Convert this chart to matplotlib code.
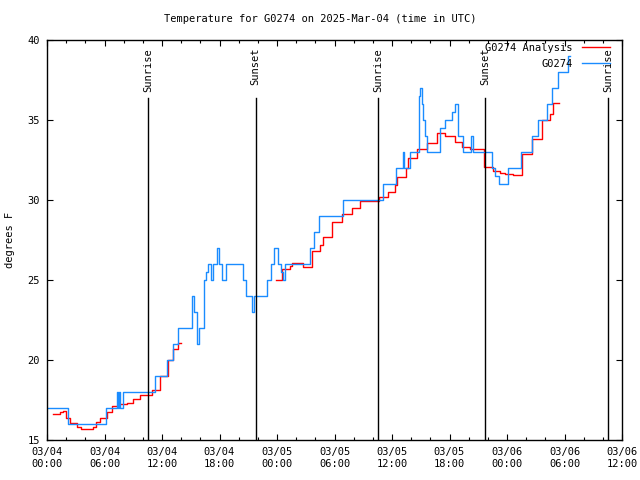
import numpy as np
import matplotlib
matplotlib.use("Agg")
import matplotlib.pyplot as plt
from matplotlib.ticker import MultipleLocator

# hours since 03/04 00:00 UTC
obs_hours = [0.14, 1.7, 2.2, 6.0, 6.15, 7.17, 7.27, 7.38, 7.48, 7.57, 7.96,
             10.93, 11.27, 12.14, 12.49, 13.18, 13.64, 14.92, 15.16, 15.33, 15.68,
             15.89, 16.2, 16.41, 16.6, 16.83, 17.11, 17.3, 17.71, 17.95, 18.23,
             18.68, 20.14, 20.45, 20.77, 21.18, 21.42, 21.63, 22.64, 22.93, 23.37,
             23.72, 24.14, 24.42, 24.66, 24.83, 27.1, 27.44, 27.86, 28.38, 30.68,
             30.92, 34.75, 35.09, 36.14, 36.42, 37.18, 37.28, 37.88, 38.58, 38.82,
             38.92, 39.13, 39.27, 39.44, 39.68, 40.83, 41.0, 41.53, 42.23, 42.58,
             42.92, 43.44, 44.21, 44.49, 46.12, 46.41, 46.75, 47.2, 48.14, 49.29,
             49.43, 50.4, 50.64, 51.2, 52.21, 52.67, 53.36, 54.4, 54.6]
obs_temp = [17, 17, 16, 16, 17, 17, 18, 17, 18, 17, 18,
            18, 19, 19, 20, 21, 22, 22, 24, 23, 21,
            22, 22, 25, 25.5, 26, 25, 26, 27, 26, 25,
            26, 26, 25, 24, 24, 23, 24, 24, 25, 26,
            27, 26, 25.5, 25, 26, 26, 27, 28, 29, 29,
            30, 30, 31, 31, 32, 33, 32, 33, 33, 36.5,
            37, 36, 35, 34, 33, 33, 34.5, 35, 35.5, 36,
            34, 33, 34, 33, 33, 32, 31.5, 31, 32, 32,
            33, 33, 34, 35, 36, 37, 38, 39, 39]

ana_hours = [0.66, 1.36, 1.7, 1.98, 2.4, 3.1, 3.52, 4.41, 4.77, 5.1, 5.53,
             6.23, 6.75, 7.44, 8.32, 9.0, 9.7, 10.57, 10.96, 11.8, 12.63, 13.15,
             13.7, 14.0,
             23.9, 24.49, 25.36, 25.6, 26.58, 26.75, 27.44, 27.68, 28.49, 28.8,
             29.71, 30.5, 30.75, 31.54, 31.83, 32.32, 32.66, 34.57, 34.68, 35.34,
             35.58, 36.31, 36.49, 37.46, 37.7, 38.58, 39.62, 40.67, 41.53, 42.58,
             43.27, 44.14, 45.42, 45.63, 46.57, 47.27, 47.79, 48.66, 49.43, 49.54,
             50.58, 51.62, 52.49, 52.77, 53.46]
ana_temp = [16.6, 16.77, 16.8, 16.4, 16.04, 15.83, 15.7, 15.7, 15.83, 16.1, 16.4,
            16.77, 17.1, 17.25, 17.33, 17.54, 17.8, 17.8, 18.1, 19.0, 20.0, 20.7,
            21.05, np.nan,
            25.0, 25.67, 25.9, 26.04, 26.04, 25.8, 25.8, 26.8, 27.2, 27.7,
            28.6, 28.6, 29.1, 29.1, 29.5, 29.5, 29.96, 29.96, 30.17, 30.17,
            30.5, 30.94, 31.46, 32.02, 32.6, 33.17, 33.58, 34.17, 34.0, 33.6,
            33.3, 33.2, 33.2, 32.08, 31.83, 31.7, 31.6, 31.56, 31.56, 32.9,
            33.8, 35.0, 35.4, 36.04, 36.04]

sun_hours = [10.57, 21.78, 34.57, 45.72, 58.57]
sun_labels = ["Sunrise", "Sunset", "Sunrise", "Sunset", "Sunrise"]

tick_hours = [0, 6, 12, 18, 24, 30, 36, 42, 48, 54, 60]
tick_labels = ["03/04\n00:00", "03/04\n06:00", "03/04\n12:00", "03/04\n18:00",
               "03/05\n00:00", "03/05\n06:00", "03/05\n12:00", "03/05\n18:00",
               "03/06\n00:00", "03/06\n06:00", "03/06\n12:00"]

plt.rcParams['font.family'] = ['DejaVu Sans Mono']
plt.rcParams['font.size'] = 7

fig = plt.figure(figsize=(6.4, 4.8), dpi=100)
ax = fig.add_axes([47/640, 40/480, 575/640, 400/480])

ax.plot(ana_hours, ana_temp, drawstyle='steps-post', color='#ff0000', lw=1.0,
        label='G0274 Analysis')
ax.plot(obs_hours, obs_temp, drawstyle='steps-post', color='#1a8cff', lw=1.0,
        label='G0274')

for h, lab in zip(sun_hours, sun_labels):
    ax.axvline(h, ymin=0, ymax=0.855, color='black', lw=1.0)
    ax.text(h, 0.98, lab, transform=ax.get_xaxis_transform(), rotation=90,
            ha='center', va='top', fontsize=7.5)

ax.set_xlim(0, 60)
ax.set_ylim(15, 40)
ax.set_xticks(tick_hours)
ax.set_xticklabels(tick_labels)
ax.xaxis.set_minor_locator(MultipleLocator(2))
ax.set_yticks([15, 20, 25, 30, 35, 40])
ax.tick_params(which='both', direction='in', top=True, right=True, labelsize=7.5)
ax.tick_params(which='major', length=4.5, width=0.8)
ax.tick_params(which='minor', length=2.3, width=0.8)
ax.tick_params(axis='x', pad=5)
ax.tick_params(axis='y', pad=5)
for s in ax.spines.values():
    s.set_linewidth(1.0)

ax.legend(loc='upper right', bbox_to_anchor=(1 - 12/575, 1 - 3/400),
          borderaxespad=0, borderpad=0, frameon=False, markerfirst=False,
          handlelength=2.7, handletextpad=0.9, labelspacing=0.55, fontsize=7.5)

fig.text(0.5, 1 - 19/480, 'Temperature for G0274 on 2025-Mar-04 (time in UTC)',
         ha='center', va='center', fontsize=7.5)
fig.text(10/640, 0.5, 'degrees F', rotation=90, ha='center', va='center',
         fontsize=7.5)

fig.savefig('out.png', dpi=100)
